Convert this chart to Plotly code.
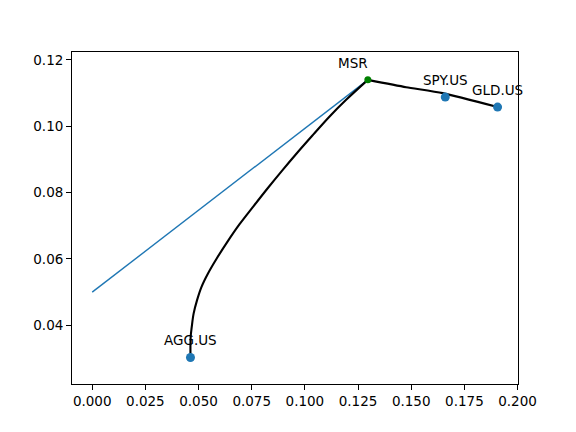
"""
Efficient frontier with the capital market line and the max Sharpe portfolio
"""

import plotly.graph_objects as go

# asset points (volatility, return)
tickers = ['AGG.US', 'SPY.US', 'GLD.US']
asset_vol = [0.0462, 0.1660, 0.1906]
asset_ret = [0.0303, 0.1088, 0.1058]

# max sharpe ratio portfolio
msr_vol = 0.1296
msr_ret = 0.1140
risk_free = 0.05

# efficient frontier
frontier_vol = [0.0462, 0.0463, 0.0468, 0.0477, 0.0493, 0.0514, 0.0545, 0.0584,
                0.0637, 0.0692, 0.0756, 0.0826, 0.0891, 0.0961, 0.1038, 0.1115,
                0.1194, 0.1296, 0.1476, 0.1648, 0.1906]
frontier_ret = [0.0303, 0.0365, 0.0395, 0.0436, 0.0476, 0.0516, 0.0557, 0.0600,
                0.0653, 0.0704, 0.0757, 0.0814, 0.0865, 0.0918, 0.0974, 0.1029,
                0.1080, 0.1140, 0.1118, 0.1100, 0.1058]

# capital market line
cml_vol = [0.0, msr_vol]
cml_ret = [risk_free, msr_ret]

FONT = 'DejaVu Sans'

fig = go.Figure()

fig.add_trace(go.Scatter(
    x=cml_vol, y=cml_ret, mode='lines',
    line=dict(color='#1f77b4', width=1.4),
    showlegend=False
))

# lower branch up to the MSR point, then the short branch to GLD
k = frontier_vol.index(msr_vol) + 1
fig.add_trace(go.Scatter(
    x=frontier_vol[:k], y=frontier_ret[:k], mode='lines',
    line=dict(color='black', width=2.1, shape='spline', smoothing=1.0),
    showlegend=False
))
fig.add_trace(go.Scatter(
    x=frontier_vol[k - 1:], y=frontier_ret[k - 1:], mode='lines',
    line=dict(color='black', width=2.1, shape='spline', smoothing=0.6),
    showlegend=False
))

fig.add_trace(go.Scatter(
    x=asset_vol, y=asset_ret, mode='markers',
    marker=dict(color='#1f77b4', size=9),
    showlegend=False
))

fig.add_trace(go.Scatter(
    x=[msr_vol], y=[msr_ret], mode='markers',
    marker=dict(color='green', size=7),
    showlegend=False
))

# labels above the points
for name, vx, ry in zip(tickers, asset_vol, asset_ret):
    fig.add_annotation(x=vx, y=ry, text=name, showarrow=False,
                       xanchor='center', yanchor='bottom', yshift=7,
                       font=dict(family=FONT, size=13.5, color='black'))
fig.add_annotation(x=msr_vol, y=msr_ret, text='MSR', showarrow=False,
                   xanchor='center', yanchor='bottom', yshift=7, xshift=-15,
                   font=dict(family=FONT, size=13.5, color='black'))

axis_style = dict(
    showline=True, linecolor='black', linewidth=1.1, mirror=True,
    showgrid=False, zeroline=False,
    ticks='outside', ticklen=4.9, tickwidth=1.1, tickcolor='black',
    tickfont=dict(family=FONT, size=13.5, color='black'),
)

fig.update_xaxes(range=[-0.0095, 0.2002], tick0=0, dtick=0.025,
                 tickformat='.3f', **axis_style)
fig.update_yaxes(range=[0.0223, 0.1224], tick0=0.04, dtick=0.02,
                 tickformat='.2f', **axis_style)

# the page puts the figure 8px in from the corner
fig.update_layout(
    width=576, height=432,
    margin=dict(l=64, r=65.6, t=43.8, b=55.5),
    plot_bgcolor='white', paper_bgcolor='white',
    font=dict(family=FONT),
)

fig.write_html("out.html")
